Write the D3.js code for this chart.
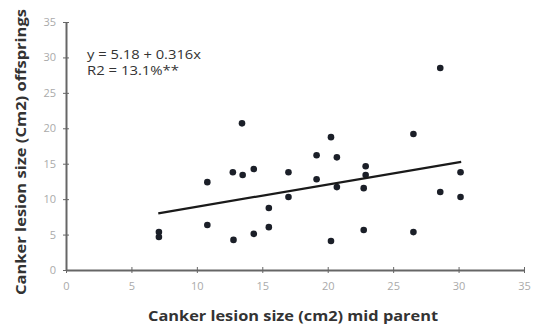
<!DOCTYPE html>
<html>
<head>
<meta charset="utf-8">
<script src="https://cdn.jsdelivr.net/npm/d3@7"></script>
<style>
  body { margin: 0; background: #fff; }
  svg { display: block; }
</style>
</head>
<body>
<svg width="533" height="328"></svg>
<script>
// mid parent lesion size (x) vs offspring lesion size (y)
const midParent = [7.1, 7.1, 10.8, 10.8, 12.8, 12.75, 13.5, 13.45, 14.35, 14.35,
  15.5, 15.5, 17.0, 17.0, 19.15, 19.15, 20.25, 20.7, 20.7, 20.25,
  22.9, 22.9, 22.75, 22.75, 26.55, 26.55, 28.6, 28.6, 30.15, 30.15];
const offspring = [5.35, 4.65, 12.4, 6.35, 4.25, 13.8, 13.4, 20.7, 14.25, 5.1,
  8.75, 6.05, 13.8, 10.3, 16.2, 12.8, 18.75, 15.9, 11.7, 4.1,
  14.65, 13.4, 11.55, 5.65, 19.2, 5.35, 28.5, 11.0, 13.8, 10.3];
const trendX = [7.05, 30.2];
const trendY = [8.0, 15.25];
const ticks = [0, 5, 10, 15, 20, 25, 30, 35];
const equation = ['y = 5.18 + 0.316x', 'R2 = 13.1%**'];

const svg = d3.select('svg');
const x = d3.scaleLinear().domain([0, 35]).range([66, 524]);
const y = d3.scaleLinear().domain([0, 35]).range([270, 22]);

const axisColor = '#666';
const font = 'Open Sans, sans-serif';

// axes
const xAxis = svg.append('g')
  .attr('transform', 'translate(0,' + y(0) + ')')
  .call(d3.axisBottom(x).tickValues(ticks).tickSize(3).tickSizeOuter(0).tickPadding(9));
const yAxis = svg.append('g')
  .attr('transform', 'translate(' + x(0) + ',0)')
  .call(d3.axisLeft(y).tickValues(ticks).tickSize(3).tickSizeOuter(0).tickPadding(7));

[xAxis, yAxis].forEach(a => {
  a.select('.domain').attr('stroke', axisColor).attr('stroke-width', 2);
  a.selectAll('.tick line').attr('stroke', axisColor).attr('stroke-width', 1);
  a.selectAll('.tick text')
    .attr('fill', '#aaa')
    .attr('font-family', font)
    .attr('font-size', '11px');
});
// ticks cross the axis line
xAxis.selectAll('.tick line').attr('y1', -3);
yAxis.selectAll('.tick line').attr('x1', 3);

// points
svg.append('g').selectAll('circle')
  .data(midParent.map((d, i) => [d, offspring[i]]))
  .join('circle')
  .attr('cx', d => x(d[0]))
  .attr('cy', d => y(d[1]))
  .attr('r', 3.3)
  .attr('fill', '#1b1f28');

// trend line
svg.append('line')
  .attr('x1', x(trendX[0])).attr('y1', y(trendY[0]))
  .attr('x2', x(trendX[1])).attr('y2', y(trendY[1]))
  .attr('stroke', '#1a1a1a')
  .attr('stroke-width', 2.2);

// equation
svg.append('g').selectAll('text')
  .data(equation)
  .join('text')
  .attr('x', 87)
  .attr('y', (d, i) => 59 + i * 16)
  .attr('font-family', font)
  .attr('font-size', '12px')
  .attr('fill', '#333')
  .attr('textLength', (d, i) => i ? 92 : 114)
  .attr('lengthAdjust', 'spacingAndGlyphs')
  .text(d => d);

// axis titles
svg.append('text')
  .attr('x', 293).attr('y', 321)
  .attr('text-anchor', 'middle')
  .attr('font-family', font)
  .attr('font-weight', 'bold')
  .attr('font-size', '14px')
  .attr('fill', '#333')
  .attr('textLength', 290)
  .attr('lengthAdjust', 'spacingAndGlyphs')
  .text('Canker lesion size (cm2) mid parent');

svg.append('text')
  .attr('transform', 'translate(26,152) rotate(-90)')
  .attr('text-anchor', 'middle')
  .attr('font-family', font)
  .attr('font-weight', 'bold')
  .attr('font-size', '14px')
  .attr('fill', '#333')
  .attr('textLength', 286)
  .attr('lengthAdjust', 'spacingAndGlyphs')
  .text('Canker lesion size (Cm2) offsprings');
</script>
</body>
</html>
